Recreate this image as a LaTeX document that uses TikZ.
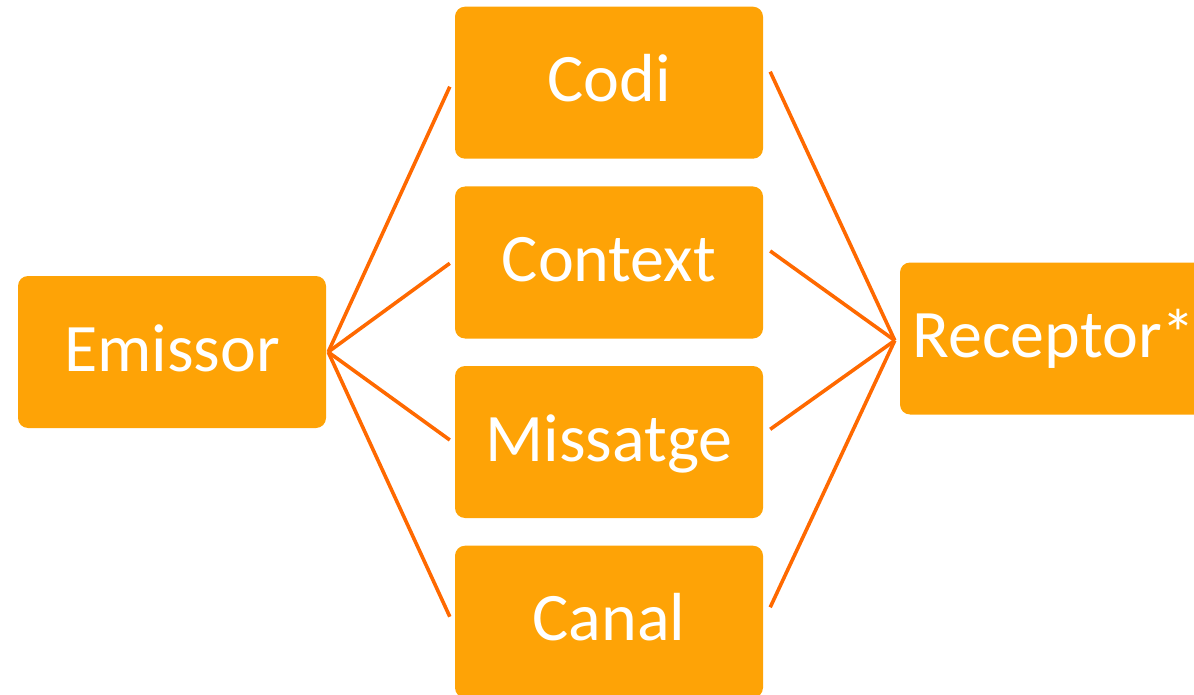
\documentclass[tikz,border=0pt]{standalone}
\usepackage{fontspec}
\setmainfont{Carlito}
\definecolor{boxfill}{RGB}{254,163,6}
\definecolor{linkcol}{RGB}{255,105,0}
\begin{document}
\begin{tikzpicture}[x=1pt,y=-1pt,
  box/.style={fill=boxfill, rounded corners=10pt, minimum width=308pt, minimum height=152pt,
    inner sep=0pt, text=white, font=\fontsize{68}{80}\selectfont, text height=38pt, text depth=0pt},
  link/.style={draw=linkcol, line width=3.6pt}]
\useasboundingbox (0,0) rectangle (1194,695);
\node[box] (emissor) at (172,352) {Emissor};
\node[box] (codi) at (609,82.7) {Codi};
\node[box] (context) at (609,262.5) {Context};
\node[box] (missatge) at (609,442) {Missatge};
\node[box] (canal) at (609,621.7) {Canal};
\node[box] (receptor) at (1054,338.5) {Receptor*};
% left fan
\draw[link] ([xshift=2pt]emissor.east) -- ([xshift=-5pt,yshift=-4pt]codi.west);
\draw[link] ([xshift=2pt]emissor.east) -- ([xshift=-5pt,yshift=-0.8pt]context.west);
\draw[link] ([xshift=2pt]emissor.east) -- ([xshift=-5pt,yshift=2pt]missatge.west);
\draw[link] ([xshift=2pt]emissor.east) -- ([xshift=-5pt,yshift=5pt]canal.west);
% right fan
\draw[link] ([xshift=7pt,yshift=11pt]codi.east) -- ([xshift=-5pt,yshift=-2pt]receptor.west);
\draw[link] ([xshift=7pt,yshift=11.5pt]context.east) -- ([xshift=-5pt,yshift=-2pt]receptor.west);
\draw[link] ([xshift=7pt,yshift=12.7pt]missatge.east) -- ([xshift=-5pt,yshift=-2pt]receptor.west);
\draw[link] ([xshift=7pt,yshift=14.4pt]canal.east) -- ([xshift=-5pt,yshift=-2pt]receptor.west);
\end{tikzpicture}
\end{document}
